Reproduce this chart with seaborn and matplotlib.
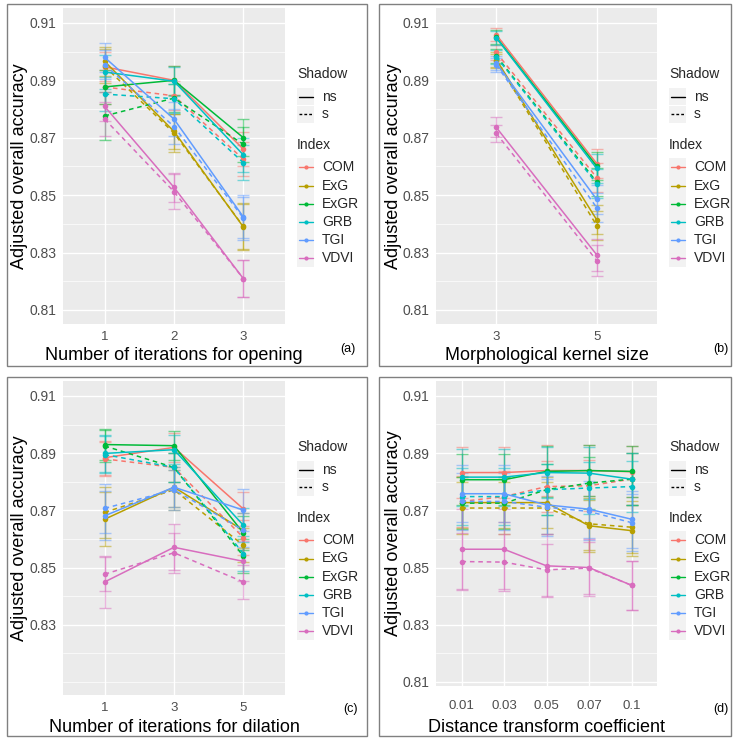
import numpy as np
import pandas as pd
import matplotlib
matplotlib.use("Agg")
import matplotlib.pyplot as plt
from matplotlib.patches import Rectangle
import seaborn as sns

# ---------------- data ----------------
INDICES = ["COM", "ExG", "ExGR", "GRB", "TGI", "VDVI"]
SHADOWS = ["ns", "s"]
COLORS = ["#F8766D", "#B79F00", "#00BA38", "#00BFC4", "#619CFF", "#D86DBE"]

# (a) Number of iterations for opening
A_TICKS = ["1", "2", "3"]
A_NS = [[0.8947, 0.8900, 0.8660],
        [0.8966, 0.8722, 0.8389],
        [0.8877, 0.8900, 0.8700],
        [0.8929, 0.8897, 0.8640],
        [0.8980, 0.8765, 0.8424],
        [0.8809, 0.8527, 0.8209]]
A_S = [[0.8877, 0.8846, 0.8625],
       [0.8949, 0.8716, 0.8391],
       [0.8776, 0.8838, 0.8677],
       [0.8852, 0.8836, 0.8613],
       [0.8955, 0.8739, 0.8420],
       [0.8765, 0.8512, 0.8209]]
A_ERR_NS = [[0.005, 0.005, 0.006],
            [0.005, 0.006, 0.008],
            [0.006, 0.005, 0.0065],
            [0.006, 0.005, 0.006],
            [0.005, 0.006, 0.0075],
            [0.005, 0.005, 0.0065]]
A_ERR_S = [[0.006, 0.005, 0.006],
           [0.006, 0.0065, 0.008],
           [0.0085, 0.005, 0.006],
           [0.006, 0.005, 0.006],
           [0.005, 0.006, 0.0075],
           [0.006, 0.006, 0.0065]]

# (b) Morphological kernel size
B_TICKS = ["3", "5"]
B_NS = [[0.9059, 0.8610],
        [0.8972, 0.8414],
        [0.9050, 0.8601],
        [0.9048, 0.8593],
        [0.8960, 0.8485],
        [0.8736, 0.8292]]
B_S = [[0.8997, 0.8561],
       [0.8968, 0.8394],
       [0.8985, 0.8546],
       [0.8982, 0.8540],
       [0.8954, 0.8456],
       [0.8715, 0.8272]]
B_ERR_NS = [[0.0022, 0.005],
            [0.0025, 0.005],
            [0.0025, 0.005],
            [0.0025, 0.005],
            [0.0025, 0.005],
            [0.0035, 0.0055]]
B_ERR_S = [[0.0025, 0.005],
           [0.0025, 0.005],
           [0.0025, 0.005],
           [0.0025, 0.005],
           [0.0025, 0.005],
           [0.003, 0.0055]]

# (c) Number of iterations for dilation
C_TICKS = ["1", "3", "5"]
C_NS = [[0.8884, 0.8920, 0.8705],
        [0.8669, 0.8781, 0.8630],
        [0.8930, 0.8926, 0.8621],
        [0.8899, 0.8912, 0.8648],
        [0.8681, 0.8781, 0.8701],
        [0.8450, 0.8571, 0.8522]]
C_S = [[0.8880, 0.8850, 0.8605],
       [0.8693, 0.8772, 0.8578],
       [0.8925, 0.8850, 0.8540],
       [0.8895, 0.8850, 0.8549],
       [0.8707, 0.8772, 0.8631],
       [0.8477, 0.8552, 0.8450]]
C_ERR_NS = [[0.006, 0.005, 0.006],
            [0.0095, 0.007, 0.006],
            [0.0055, 0.005, 0.006],
            [0.0065, 0.005, 0.006],
            [0.0085, 0.007, 0.0073],
            [0.009, 0.008, 0.007]]
C_ERR_S = [[0.006, 0.005, 0.006],
           [0.009, 0.007, 0.006],
           [0.0055, 0.005, 0.006],
           [0.0065, 0.005, 0.006],
           [0.0085, 0.007, 0.006],
           [0.006, 0.007, 0.006]]

# (d) Distance transform coefficient
D_TICKS = ["0.01", "0.03", "0.05", "0.07", "0.1"]
D_NS = [[0.8832, 0.8832, 0.8839, 0.8839, 0.8835],
        [0.8727, 0.8727, 0.8727, 0.8646, 0.8629],
        [0.8807, 0.8807, 0.8836, 0.8839, 0.8836],
        [0.8816, 0.8816, 0.8832, 0.8830, 0.8809],
        [0.8758, 0.8758, 0.8719, 0.8704, 0.8669],
        [0.8564, 0.8564, 0.8506, 0.8500, 0.8438]]
D_S = [[0.8731, 0.8748, 0.8783, 0.8786, 0.8809],
       [0.8708, 0.8708, 0.8708, 0.8653, 0.8641],
       [0.8725, 0.8725, 0.8772, 0.8795, 0.8809],
       [0.8748, 0.8748, 0.8772, 0.8778, 0.8783],
       [0.8731, 0.8731, 0.8711, 0.8696, 0.8657],
       [0.8521, 0.8519, 0.8492, 0.8498, 0.8438]]
D_ERR_NS = [[0.009, 0.009, 0.009, 0.009, 0.009],
            [0.009, 0.009, 0.009, 0.009, 0.009],
            [0.009, 0.009, 0.009, 0.009, 0.009],
            [0.010, 0.010, 0.009, 0.009, 0.009],
            [0.010, 0.010, 0.010, 0.010, 0.010],
            [0.014, 0.014, 0.011, 0.010, 0.0086]]
D_ERR_S = [[0.009, 0.009, 0.009, 0.009, 0.009],
           [0.009, 0.009, 0.009, 0.009, 0.009],
           [0.009, 0.009, 0.009, 0.009, 0.009],
           [0.010, 0.010, 0.009, 0.009, 0.009],
           [0.010, 0.010, 0.010, 0.010, 0.010],
           [0.010, 0.010, 0.009, 0.009, 0.0086]]

X_TITLES = ["Number of iterations for opening", "Morphological kernel size",
            "Number of iterations for dilation", "Distance transform coefficient"]
TAGS = ["(a)", "(b)", "(c)", "(d)"]
Y_TITLE = "Adjusted overall accuracy"

# ---------------- style ----------------
W, H = 734, 738
sns.set_theme(style="darkgrid")
plt.rcParams["font.family"] = ["Liberation Sans", "DejaVu Sans"]
PAL = dict(zip(INDICES, COLORS))

fig = plt.figure(figsize=(W / 100, H / 100), dpi=100)
fig.patch.set_facecolor("white")


def add_ax(l, t, r, b):
    return fig.add_axes([l / W, 1 - b / H, (r - l) / W, (b - t) / H])


panels = [
    dict(ticks=A_TICKS, ns=A_NS, s=A_S, ens=A_ERR_NS, es=A_ERR_S, xpad=2,
         rect=(63, 8, 285, 324), ylo=0.8051, yl=[0.81, 0.83, 0.85, 0.87, 0.89, 0.91]),
    dict(ticks=B_TICKS, ns=B_NS, s=B_S, ens=B_ERR_NS, es=B_ERR_S, xpad=2,
         rect=(436, 8, 657, 324), ylo=0.8051, yl=[0.81, 0.83, 0.85, 0.87, 0.89, 0.91]),
    dict(ticks=C_TICKS, ns=C_NS, s=C_S, ens=C_ERR_NS, es=C_ERR_S, xpad=2,
         rect=(63, 381, 285, 695), ylo=0.8055, yl=[0.83, 0.85, 0.87, 0.89, 0.91]),
    dict(ticks=D_TICKS, ns=D_NS, s=D_S, ens=D_ERR_NS, es=D_ERR_S, xpad=7,
         rect=(436, 381, 657, 686), ylo=0.8086, yl=[0.81, 0.83, 0.85, 0.87, 0.89, 0.91]),
]

for p in panels:
    rows = []
    for sh, means, errs in (("ns", p["ns"], p["ens"]), ("s", p["s"], p["es"])):
        for ii, idx in enumerate(INDICES):
            for k in range(len(p["ticks"])):
                rows.append(dict(pos=k, value=means[ii][k], err=errs[ii][k],
                                 Index=idx, Shadow=sh))
    df = pd.DataFrame(rows)
    ax = add_ax(*p["rect"])
    ax.set_facecolor("#EBEBEB")
    for (idx, sh), g in df.groupby(["Index", "Shadow"]):
        ax.errorbar(g["pos"], g["value"], yerr=g["err"], fmt="none",
                    ecolor=PAL[idx], alpha=0.5, elinewidth=1.0,
                    capsize=4, capthick=1.0, zorder=2)
    sns.lineplot(data=df, x="pos", y="value", hue="Index", style="Shadow",
                 hue_order=INDICES, style_order=SHADOWS, palette=PAL,
                 dashes={"ns": "", "s": (3, 2.5)},
                 markers={"ns": "o", "s": "o"}, markersize=4,
                 markeredgewidth=0, linewidth=1.1, estimator=None,
                 sort=False, legend=False, ax=ax, zorder=3)
    n = len(p["ticks"])
    ax.set_xlim(-0.6, n - 1 + 0.6)
    ax.set_xticks(range(n))
    ax.set_xticklabels(p["ticks"])
    ax.set_ylim(p["ylo"], 0.9152)
    ax.set_yticks(p["yl"])
    ax.set_yticklabels([f"{v:.2f}" for v in p["yl"]])
    ax.set_yticks([0.81, 0.82, 0.84, 0.86, 0.88, 0.90], minor=True)
    ax.grid(which="major", color="white", lw=1.0)
    ax.grid(which="minor", axis="y", color="white", lw=0.5)
    ax.tick_params(which="major", direction="out", length=3, width=0.8,
                   color="#333333", labelcolor="#4D4D4D", labelsize=10, pad=2)
    ax.tick_params(axis="x", labelsize=9.5, pad=p["xpad"])
    ax.tick_params(which="minor", length=0)
    ax.set_xlabel("")
    ax.set_ylabel("")
    for sp in ax.spines.values():
        sp.set_visible(False)

# ---------------- overlay: borders, titles, legends ----------------
ov = fig.add_axes([0, 0, 1, 1], zorder=10)
ov.set_xlim(0, W)
ov.set_ylim(H, 0)
ov.axis("off")
ov.patch.set_alpha(0)

borders = [(7, 4, 367, 366), (379, 4, 731, 366), (7, 377, 367, 736), (379, 377, 731, 736)]
for (l, t, r, b) in borders:
    ov.add_patch(Rectangle((l, t), r - l, b - t, fill=False, ec="#808080", lw=1.0))

xt_y = [355, 355, 727, 727]
tag_pos = [(348, 349), (721, 349), (350, 709), (721, 709)]
for i, p in enumerate(panels):
    l, t, r, b = p["rect"]
    ov.text((l + r) / 2, xt_y[i], X_TITLES[i], ha="center", va="center",
            fontsize=13, color="black")
    ov.text(l - 43, (t + b) / 2, Y_TITLE, ha="center", va="center",
            rotation=90, fontsize=13, color="black")
    ov.text(tag_pos[i][0], tag_pos[i][1], TAGS[i], ha="center", va="center",
            fontsize=9, color="black")

    # legend
    lx = r + 12
    ov.text(lx, t + 66, "Shadow", ha="left", va="center", fontsize=10)
    for j, (lab, ls) in enumerate((("ns", "-"), ("s", (0, (2, 1.5))))):
        yy = t + 88.7 + j * 17.6
        ov.add_patch(Rectangle((lx, yy - 8.6), 17, 17.2, fc="#F2F2F2", ec="none"))
        ov.plot([lx + 1.5, lx + 15.5], [yy, yy], color="black", lw=1.0, ls=ls)
        ov.text(lx + 25, yy, lab, ha="left", va="center", fontsize=10)
    ov.text(lx, t + 137, "Index", ha="left", va="center", fontsize=10)
    for j, idx in enumerate(INDICES):
        yy = t + 159.3 + j * 18.2
        ov.add_patch(Rectangle((lx, yy - 9.1), 17, 18.2, fc="#F2F2F2", ec="none"))
        ov.plot([lx + 1.5, lx + 15.5], [yy, yy], color=PAL[idx], lw=1.0)
        ov.plot([lx + 8.5], [yy], marker="o", ms=3, color=PAL[idx], mew=0)
        ov.text(lx + 25, yy, idx, ha="left", va="center", fontsize=10)

fig.savefig("out.png", dpi=100, facecolor="white")
